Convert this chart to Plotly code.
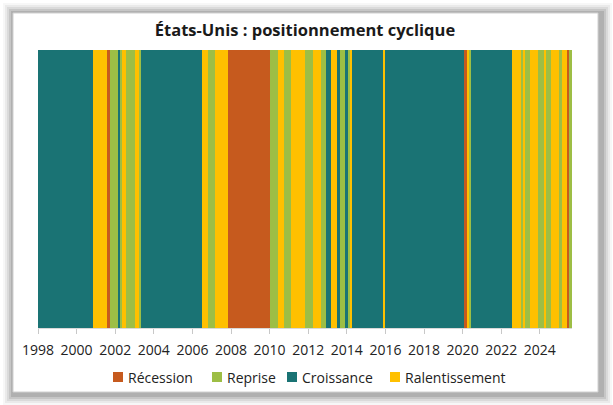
import plotly.graph_objects as go

# Regime segments: start month and regime (monthly data, Jan 1998 - Aug 2025)
segment_start = [
    "1998-01", "2000-11", "2001-08", "2001-10", "2002-03", "2002-04", "2002-05", "2002-08",
    "2003-01", "2003-04", "2003-05", "2006-07", "2006-11", "2007-03", "2007-11", "2010-01",
    "2010-06", "2010-10", "2011-02", "2011-11", "2012-04", "2012-09", "2012-12", "2013-03",
    "2013-07", "2013-09", "2013-12", "2014-02", "2014-03", "2014-04", "2015-12", "2016-01",
    "2020-02", "2020-04", "2020-05", "2020-06", "2022-08", "2023-01", "2023-03", "2023-04",
    "2023-07", "2023-12", "2024-04", "2024-05", "2024-08", "2025-01", "2025-03", "2025-06",
    "2025-07",
]
segment_regime = [
    "Croissance", "Ralentissement", "Récession", "Reprise", "Croissance", "Reprise", "Ralentissement", "Reprise",
    "Ralentissement", "Reprise", "Croissance", "Ralentissement", "Reprise", "Ralentissement", "Récession", "Reprise",
    "Ralentissement", "Reprise", "Ralentissement", "Reprise", "Ralentissement", "Reprise", "Croissance", "Ralentissement",
    "Croissance", "Reprise", "Croissance", "Reprise", "Ralentissement", "Croissance", "Ralentissement", "Croissance",
    "Récession", "Ralentissement", "Reprise", "Croissance", "Ralentissement", "Reprise", "Ralentissement", "Reprise",
    "Ralentissement", "Reprise", "Ralentissement", "Reprise", "Ralentissement", "Reprise", "Ralentissement", "Récession",
    "Reprise",
]
last_month = "2025-08"

regimes = ["Récession", "Reprise", "Croissance", "Ralentissement"]
regime_colors = {
    "Récession": "#C65A1E",
    "Reprise": "#9DBE45",
    "Croissance": "#1A7374",
    "Ralentissement": "#FFC000",
}
tick_years = list(range(1998, 2025, 2))


def to_dec(s):
    y, m = s.split("-")
    return int(y) + (int(m) - 1) / 12


starts = [to_dec(s) for s in segment_start]
ends = starts[1:] + [to_dec(last_month) + 1 / 12]

fig = go.Figure()
for r in regimes:
    xs = [s for s, g in zip(starts, segment_regime) if g == r]
    ws = [e - s for s, e, g in zip(starts, ends, segment_regime) if g == r]
    fig.add_trace(go.Bar(
        x=xs, y=[1] * len(xs), width=ws, offset=0, name=r,
        marker=dict(color=regime_colors[r], line=dict(width=0)),
        hoverinfo="skip", showlegend=False,
    ))

W, H = 613, 405
L, R, T, B = 38, 41, 50, 77
PW, PH = W - L - R, H - T - B


def px(x):  # pixel x -> paper
    return (x - L) / PW


def py(y):  # pixel y (from top) -> paper
    return (H - B - y) / PH


shapes = []
# card shadow
for i, op in enumerate([0.05, 0.08, 0.11, 0.15, 0.2]):
    inset = 3 + i * 2
    shapes.append(dict(type="rect", xref="paper", yref="paper", layer="below",
                       x0=px(inset), x1=px(W - inset + 2),
                       y0=py(H - inset + 3), y1=py(inset),
                       fillcolor=f"rgba(90,90,90,{op})", line=dict(width=0)))
shapes.append(dict(type="rect", xref="paper", yref="paper", layer="below",
                   x0=px(13), x1=px(598), y0=py(392), y1=py(13),
                   fillcolor="white", line=dict(color="#d0d0d0", width=1)))

annotations = []
legend_sq_x = [113, 212, 287, 390]
legend_y = 377
for r, sx in zip(regimes, legend_sq_x):
    shapes.append(dict(type="rect", xref="paper", yref="paper",
                       x0=px(sx), x1=px(sx + 10), y0=py(legend_y + 5), y1=py(legend_y - 5),
                       fillcolor=regime_colors[r], line=dict(width=0)))
    annotations.append(dict(text=r, xref="paper", yref="paper", x=px(sx + 13), y=py(legend_y),
                            xanchor="left", yanchor="middle", showarrow=False,
                            font=dict(family="Open Sans", size=14, color="#222222")))

fig.update_layout(
    width=W, height=H,
    margin=dict(l=L, r=R, t=T, b=B, autoexpand=False),
    paper_bgcolor="white", plot_bgcolor="rgba(0,0,0,0)",
    barmode="overlay", bargap=0,
    shapes=shapes, annotations=annotations,
    title=dict(text="<b>États-Unis : positionnement cyclique</b>", x=0.5, xref="paper",
               xanchor="center", y=1 - 30 / H, yanchor="middle",
               font=dict(family="Open Sans", size=16.5, color="#1a1a1a")),
    xaxis=dict(range=[1998, to_dec(last_month) + 1 / 12], automargin=False,
               tickvals=tick_years, ticktext=[str(y) for y in tick_years],
               ticks="outside", ticklen=5, tickcolor="#c8c8c8", ticklabelstandoff=4,
               showgrid=False, zeroline=False, showline=True, linecolor="#d9d9d9",
               tickfont=dict(family="Open Sans", size=14, color="#222222")),
    yaxis=dict(range=[0, 1], visible=False, automargin=False),
    showlegend=False,
)

fig.write_html("out.html")
